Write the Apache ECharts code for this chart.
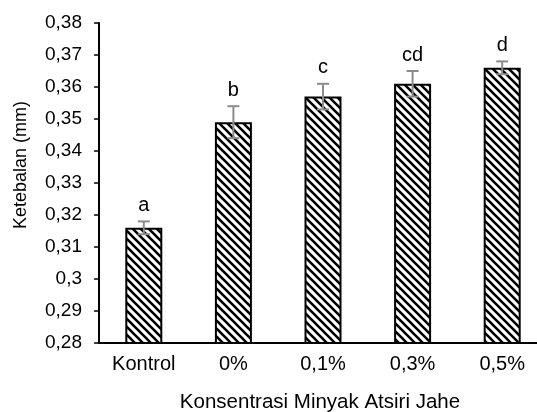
<!DOCTYPE html>
<html>
<head>
<meta charset="utf-8">
<script src="https://cdn.jsdelivr.net/npm/echarts@6/dist/echarts.min.js"></script>
<style>
  html, body { margin: 0; padding: 0; background: #fff; overflow: hidden; width: 537px; height: 412px; }
  #chart { width: 547px; height: 412px; }
</style>
</head>
<body>
<div id="chart"></div>
<script>
// Film thickness by ginger essential-oil concentration
const categories = ['Kontrol', '0%', '0,1%', '0,3%', '0,5%'];
const thickness = [0.316, 0.349, 0.357, 0.361, 0.366];
const stdError = [0.002, 0.005, 0.004, 0.004, 0.002];
const groupLetters = ['a', 'b', 'c', 'cd', 'd'];
const yTicks = { min: 0.28, max: 0.38, step: 0.01 };

const FONT = '"Liberation Sans", Arial, Helvetica, sans-serif';

// Diagonal hatch fill (top-left to bottom-right stripes)
function hatchPattern() {
  const size = 8;
  const c = document.createElement('canvas');
  c.width = size; c.height = size;
  const ctx = c.getContext('2d');
  ctx.fillStyle = '#ffffff';
  ctx.fillRect(0, 0, size, size);
  ctx.strokeStyle = '#000000';
  ctx.lineWidth = 2.6;
  ctx.beginPath();
  for (let k = -1; k <= 1; k++) {
    ctx.moveTo(k * size - 1, -1);
    ctx.lineTo(k * size + size + 1, size + 1);
  }
  ctx.stroke();
  return c;
}

const chart = echarts.init(document.getElementById('chart'), null, { renderer: 'canvas' });

const errorData = thickness.map((v, i) => [i, v, stdError[i]]);

chart.setOption({
  animation: false,
  backgroundColor: '#ffffff',
  grid: { left: 99, right: 0, top: 23, bottom: 69, containLabel: false },
  xAxis: {
    type: 'category',
    data: categories,
    axisLine: { lineStyle: { color: '#000', width: 2 } },
    axisTick: { show: false },
    axisLabel: { color: '#000', fontFamily: FONT, fontSize: 20, margin: 11 }
  },
  yAxis: {
    type: 'value',
    min: yTicks.min,
    max: yTicks.max,
    interval: yTicks.step,
    splitLine: { show: false },
    axisLine: { show: true, lineStyle: { color: '#000', width: 2 } },
    axisTick: { show: true, length: 5, lineStyle: { color: '#000', width: 1.5 } },
    axisLabel: {
      color: '#000', fontFamily: FONT, fontSize: 19, margin: 17,
      formatter: v => (Math.round(v * 100) / 100).toString().replace('.', ',')
    }
  },
  graphic: [
    {
      type: 'text', x: 320, y: 402,
      style: { text: 'Konsentrasi Minyak Atsiri Jahe', fill: '#000', font: '20.5px ' + FONT, align: 'center', verticalAlign: 'middle' }
    },
    {
      type: 'text', x: 21, y: 165, rotation: Math.PI / 2,
      style: { text: 'Ketebalan (mm)', fill: '#000', font: '18px ' + FONT, align: 'center', verticalAlign: 'middle' }
    }
  ],
  series: [
    {
      type: 'bar',
      data: thickness,
      barWidth: 37,
      itemStyle: {
        color: { image: hatchPattern(), repeat: 'repeat' },
        borderColor: '#000',
        borderWidth: 2
      },
      z: 2
    },
    {
      type: 'custom',
      data: errorData,
      z: 5,
      renderItem: function (params, api) {
        const i = api.value(0);
        const v = api.value(1);
        const e = api.value(2);
        const hi = api.coord([i, v + e]);
        const lo = api.coord([i, v - e]);
        const cap = 6;
        const lineStyle = { stroke: '#8c8c8c', lineWidth: 2 };
        return {
          type: 'group',
          children: [
            { type: 'line', shape: { x1: hi[0], y1: hi[1], x2: lo[0], y2: lo[1] }, style: lineStyle },
            { type: 'line', shape: { x1: hi[0] - cap, y1: hi[1], x2: hi[0] + cap, y2: hi[1] }, style: lineStyle },
            { type: 'line', shape: { x1: lo[0] - cap, y1: lo[1], x2: lo[0] + cap, y2: lo[1] }, style: lineStyle },
            {
              type: 'text', x: hi[0], y: hi[1] - 6,
              style: { text: groupLetters[i], fill: '#000', font: '20px ' + FONT, align: 'center', verticalAlign: 'bottom' }
            }
          ]
        };
      }
    }
  ]
});
</script>
</body>
</html>
